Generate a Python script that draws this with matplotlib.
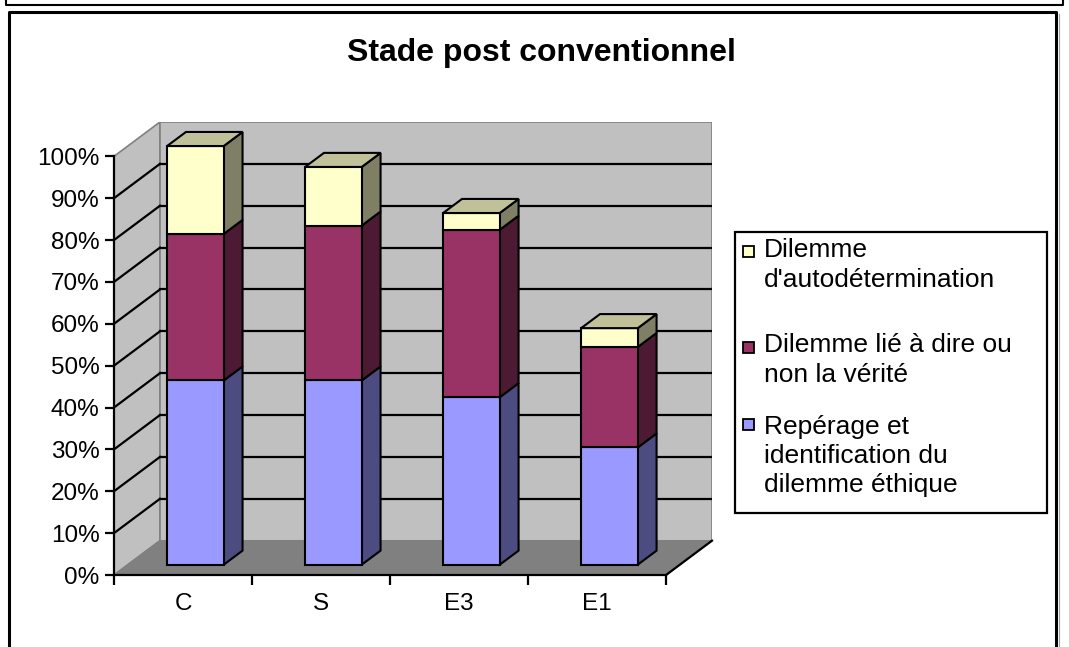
import numpy as np
import matplotlib
matplotlib.use('Agg')
import matplotlib.pyplot as plt
from matplotlib.patches import Rectangle, Polygon
from matplotlib.lines import Line2D

plt.rcParams['font.family'] = ['Liberation Sans', 'DejaVu Sans']

categories = ['C', 'S', 'E3', 'E1']
reperage = [44, 44, 40, 28]      # Repérage et identification du dilemme éthique
verite = [35, 37, 40, 24]        # Dilemme lié à dire ou non la vérité
autodet = [21, 14, 4, 4.5]       # Dilemme d'autodétermination
series_labels = ["Repérage et\nidentification du\ndilemme éthique",
                 "Dilemme lié à dire ou\nnon la vérité",
                 "Dilemme\nd'autodétermination"]
yticks = list(range(0, 101, 10))

# front / side / top shades per series
shades = [('#9999ff', '#4c4c80', '#ccccff'),
          ('#993366', '#4c1a33', '#cc99b3'),
          ('#ffffcc', '#7f7f66', '#c0c099')]

W, H = 1069, 647
fig = plt.figure(figsize=(W / 100, H / 100), dpi=100)
ax = fig.add_axes([114 / W, 1 - 575 / H, (712 - 114) / W, (575 - 122) / H])
ax.set_facecolor('none')

DX, DY = 0.333, 8.2   # oblique depth offset in data units
n = len(categories)
ax.set_xlim(0, n + DX)
ax.set_ylim(0, 100 + DY)


def d(x, y, f):
    return (x + f * DX, y + f * DY)


# walls and floor
ax.add_patch(Polygon([(0, 0), (0, 100), d(0, 100, 1), d(0, 0, 1)],
                     fc='#c0c0c0', ec='#808080', lw=1.2, zorder=0))
ax.add_patch(Polygon([d(0, 0, 1), d(n, 0, 1), d(n, 100, 1), d(0, 100, 1)],
                     fc='#c0c0c0', ec='#808080', lw=1.2, zorder=0))
ax.add_patch(Polygon([(0, 0), (n, 0), d(n, 0, 1), d(0, 0, 1)],
                     fc='#808080', ec='#808080', lw=1.0, zorder=0.5))
for v in yticks[1:-1]:
    ax.plot([DX, n + DX], [v + DY, v + DY], color='black', lw=1.6, zorder=1)
    ax.plot([0, DX], [v, v + DY], color='black', lw=1.6, zorder=1)
ax.plot([n, n + DX], [0, DY], color='black', lw=1.6, zorder=1, clip_on=False)

# stacked 3D columns
fa, fb = 0.30, 0.71
bw = 0.41
stacks = [reperage, verite, autodet]
for i in range(n):
    x0 = i + 0.285
    x1 = x0 + bw
    base = 0
    for k, vals in enumerate(stacks):
        top = base + vals[i]
        fc, sc, tc = shades[k]
        kw = dict(ec='black', lw=1.5, joinstyle='miter', zorder=3 + k)
        ax.add_patch(Polygon([d(x1, base, fa), d(x1, base, fb), d(x1, top, fb), d(x1, top, fa)], fc=sc, **kw))
        ax.add_patch(Polygon([d(x0, base, fa), d(x1, base, fa), d(x1, top, fa), d(x0, top, fa)], fc=fc, **kw))
        if k == len(stacks) - 1:
            ax.add_patch(Polygon([d(x0, top, fa), d(x1, top, fa), d(x1, top, fb), d(x0, top, fb)], fc=tc, **kw))
        base = top

# axes
for s in ['top', 'right']:
    ax.spines[s].set_visible(False)
ax.spines['left'].set_bounds(0, 100)
ax.spines['bottom'].set_bounds(0, n)
for s in ['left', 'bottom']:
    ax.spines[s].set_linewidth(1.6)
    ax.spines[s].set_zorder(2)
ax.set_yticks(yticks)
ax.set_yticklabels([f'{v}%' for v in yticks])
ax.tick_params(axis='y', direction='out', length=6.5, width=1.6, pad=4, labelsize=17.5)
ax.set_xticks(range(n + 1))
ax.set_xticklabels([''] * (n + 1))
ax.tick_params(axis='x', which='major', direction='out', length=7, width=1.6)
ax.set_xticks([i + 0.5 for i in range(n)], minor=True)
ax.set_xticklabels(categories, minor=True)
ax.tick_params(axis='x', which='minor', length=0, pad=13, labelsize=17.5)


def px(x, y):
    return (x / W, 1 - y / H)


# title
fig.text(*px(541, 61), 'Stade post conventionnel', ha='center', va='baseline',
         fontsize=23, fontweight='bold')

# legend box
lx0, ly0, lx1, ly1 = 735, 232, 1047, 513
fig.add_artist(Rectangle(px(lx0, ly1), (lx1 - lx0) / W, (ly1 - ly0) / H,
                         transform=fig.transFigure, fill=False, ec='black', lw=1.6))
entry_centers = [265, 360, 456]
first_line = [251, 347, 424]
for pos, k in enumerate([2, 1, 0]):
    yc = first_line[pos]
    fig.add_artist(Rectangle(px(743, yc + 5.5), 11 / W, 11 / H, transform=fig.transFigure,
                             fc=shades[k][0], ec='black', lw=1.3))
    fig.text(*px(764, entry_centers[pos]), series_labels[k], ha='left', va='center',
             fontsize=19, linespacing=1.28)

# chart frames
frame_kw = dict(transform=fig.transFigure, color='black', solid_capstyle='projecting')
fig.add_artist(Line2D([px(6, 0)[0], px(6, 5)[0], px(1063, 5)[0], px(1063, 0)[0]],
                      [px(6, 0)[1], px(6, 5)[1], px(1063, 5)[1], px(1063, 0)[1]], lw=1.5, **frame_kw))
fig.add_artist(Line2D([px(9, 660)[0], px(9, 12)[0], px(1056, 12)[0], px(1056, 660)[0]],
                      [px(9, 660)[1], px(9, 12)[1], px(1056, 12)[1], px(1056, 660)[1]], lw=2.2, **frame_kw))
fig.add_artist(Line2D([px(1058.5, 14)[0], px(1058.5, 660)[0]], [px(1058.5, 14)[1], px(1058.5, 660)[1]],
                      transform=fig.transFigure, color='#a0a0a0', lw=0.8))

fig.savefig('out.png', dpi=100)
